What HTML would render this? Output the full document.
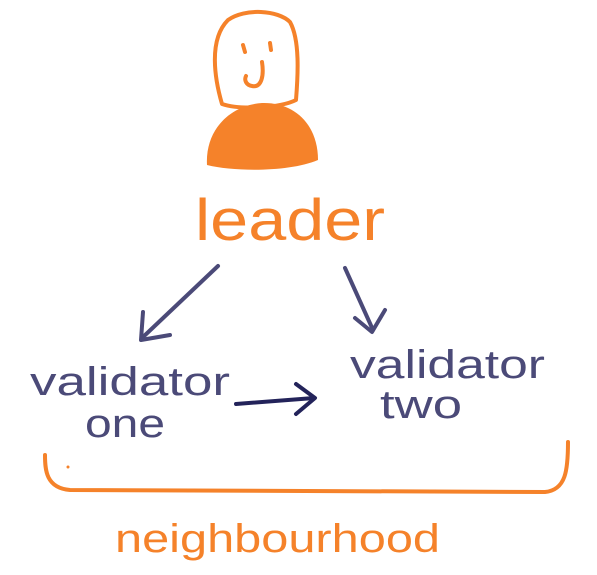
<!DOCTYPE html>
<html><head><meta charset="utf-8"><style>
html,body{margin:0;padding:0;background:#fff;}
svg{display:block}
text{font-family:"Liberation Sans",sans-serif;}
</style></head><body>
<svg width="597" height="575" viewBox="0 0 597 575" xmlns="http://www.w3.org/2000/svg">
<g fill="none" stroke="#f5822a" stroke-width="4" stroke-linecap="round" stroke-linejoin="round">
<path d="M228,20 C245,8 278,10 290,22 C300,40 298,75 296,100 C280,108 240,110 222,104 C215,80 208,40 228,20 Z"/>
<path d="M243,45 L245,52 M270,43 L271,50"/>
<path d="M262,62 C264,75 262,88 252,86 C246,85 244,80 246,76"/>
<path d="M45,455 C45,470 46,488 70,490 L545,492 C566,490 568,470 568,442"/>
</g>
<path d="M207,165 C205,130 230,105 262,103 C295,102 318,125 318,160 C290,172 235,172 207,165 Z" fill="#f5822a"/>
<circle cx="68" cy="467" r="1.5" fill="#f5822a"/>
<text x="195" y="240" font-size="58" fill="#f5822a" textLength="190" lengthAdjust="spacingAndGlyphs">leader</text>
<g fill="none" stroke="#4b4a78" stroke-width="4" stroke-linecap="round" stroke-linejoin="round">
<path d="M218,266 L142,338"/>
<path d="M143,312 L141,340 L170,335"/>
<path d="M345,268 L373,330"/>
<path d="M355,318 L372,332 L385,310"/>
</g>
<g fill="none" stroke="#23235a" stroke-width="4" stroke-linecap="round" stroke-linejoin="round">
<path d="M236,404 L314,398"/>
<path d="M296,384 L315,398 L296,414"/>
</g>
<text x="30" y="395" font-size="40" fill="#4b4a78" textLength="200" lengthAdjust="spacingAndGlyphs">validator</text>
<text x="85" y="437" font-size="40" fill="#4b4a78" textLength="80" lengthAdjust="spacingAndGlyphs">one</text>
<text x="350" y="378" font-size="40" fill="#4b4a78" textLength="195" lengthAdjust="spacingAndGlyphs">validator</text>
<text x="380" y="418" font-size="40" fill="#4b4a78" textLength="82" lengthAdjust="spacingAndGlyphs">two</text>
<text x="115" y="552" font-size="40" fill="#f5822a" textLength="325" lengthAdjust="spacingAndGlyphs">neighbourhood</text>
</svg>
</body></html>
